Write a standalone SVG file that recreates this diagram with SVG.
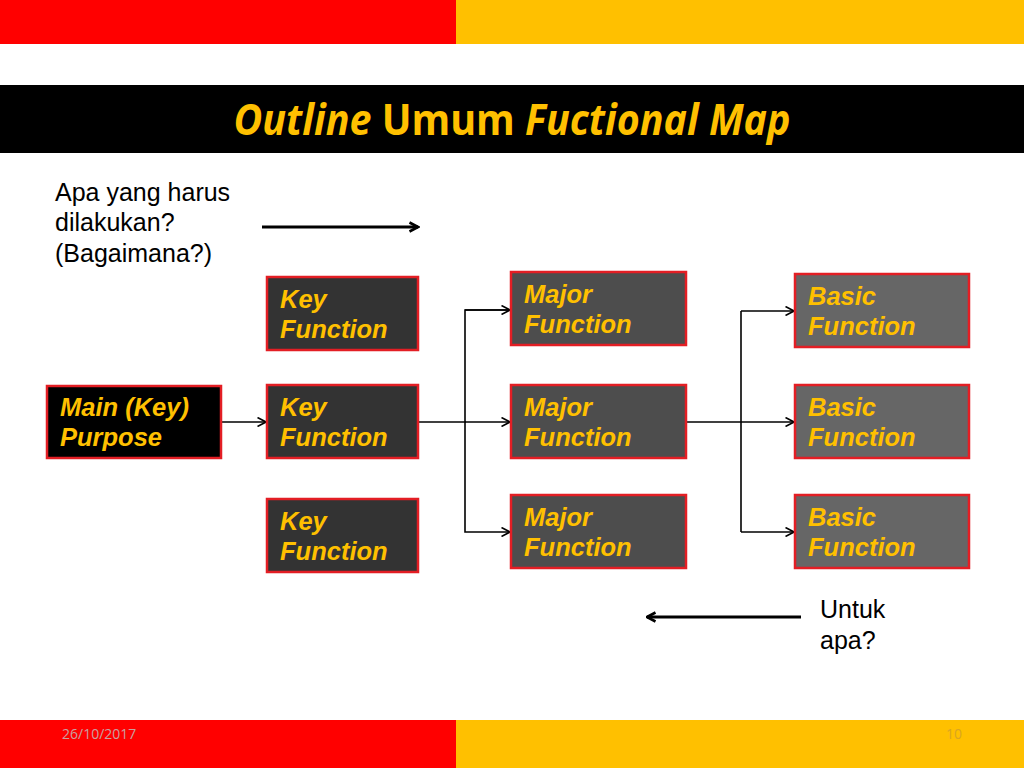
<svg xmlns="http://www.w3.org/2000/svg" width="1024" height="768" viewBox="0 0 1024 768">
<style>
.node{stroke:#e31e24;stroke-width:2.5}
.nt{font-family:"Liberation Sans",Arial,sans-serif;font-weight:bold;font-style:italic;font-size:25.5px;fill:#ffc000}
.plain{font-family:"Liberation Sans",Arial,sans-serif;font-size:25px;fill:#000}
.conn{fill:none;stroke:#000;stroke-width:1.6}
.big{fill:none;stroke:#000;stroke-width:3}
</style>
<defs>
<marker id="ah" viewBox="0 0 10 10" refX="9.5" refY="5" markerWidth="10" markerHeight="10" markerUnits="userSpaceOnUse" orient="auto">
<path d="M1,0.5 L9.5,5 L1,9.5" fill="none" stroke="#000" stroke-width="1.6"/>
</marker>
<marker id="ahb" viewBox="0 0 12 12" refX="10.5" refY="6" markerWidth="12" markerHeight="12" markerUnits="userSpaceOnUse" orient="auto">
<path d="M2,1.5 L10.5,6 L2,10.5" fill="none" stroke="#000" stroke-width="2.6"/>
</marker>
</defs>
<rect x="0" y="0" width="1024" height="768" fill="#fff"/>
<rect x="0" y="0" width="456" height="44" fill="#ff0000"/>
<rect x="456" y="0" width="568" height="44" fill="#ffc000"/>
<rect x="0" y="85" width="1024" height="68" fill="#000"/>
<text x="512" y="135" text-anchor="middle" textLength="557" lengthAdjust="spacingAndGlyphs" font-family="'Open Sans','Liberation Sans',sans-serif" font-weight="bold" font-size="43" fill="#ffc000"><tspan font-style="italic">Outline</tspan> Umum <tspan font-style="italic">Fuctional Map</tspan></text>
<rect x="0" y="720" width="456" height="48" fill="#ff0000"/>
<rect x="456" y="720" width="568" height="48" fill="#ffc000"/>
<text x="62" y="739" font-family="'Open Sans','Liberation Sans',sans-serif" font-size="14" fill="#c8a0a0">26/10/2017</text>
<text x="962" y="739" text-anchor="end" font-family="'Open Sans','Liberation Sans',sans-serif" font-size="14" fill="#d9a520">10</text>
<text class="plain"><tspan x="55" y="201">Apa yang harus</tspan><tspan x="55" y="231">dilakukan?</tspan><tspan x="55" y="262">(Bagaimana?)</tspan></text>
<text class="plain"><tspan x="820" y="618">Untuk</tspan><tspan x="820" y="649">apa?</tspan></text>
<g id="connectors">
<line class="big" x1="262" y1="227" x2="418" y2="227" marker-end="url(#ahb)"/>
<line class="big" x1="801" y1="617" x2="647" y2="617" marker-end="url(#ahb)"/>
<line class="conn" x1="221" y1="422" x2="266" y2="422" marker-end="url(#ah)"/>
<line class="conn" x1="418" y1="422" x2="466" y2="422"/>
<path class="conn" d="M510,310 H465 V532 H510" marker-end="url(#ah)"/>
<line class="conn" x1="465" y1="310" x2="510" y2="310" marker-end="url(#ah)"/>
<line class="conn" x1="465" y1="422" x2="510" y2="422" marker-end="url(#ah)"/>
<line class="conn" x1="686" y1="422" x2="741" y2="422"/>
<path class="conn" d="M741,311 V532" />
<line class="conn" x1="741" y1="311" x2="794" y2="311" marker-end="url(#ah)"/>
<line class="conn" x1="741" y1="422" x2="794" y2="422" marker-end="url(#ah)"/>
<line class="conn" x1="741" y1="532" x2="794" y2="532" marker-end="url(#ah)"/>
</g>
<g id="main">
<rect class="node" x="47" y="386" width="174" height="72" fill="#000"/>
<text class="nt"><tspan x="60" y="416">Main (Key)</tspan><tspan x="60" y="446">Purpose</tspan></text>
</g>
<g id="key1">
<rect class="node" x="267" y="277" width="151" height="73" fill="#333"/>
<text class="nt"><tspan x="280" y="308">Key</tspan><tspan x="280" y="338">Function</tspan></text>
</g>
<g id="key2">
<rect class="node" x="267" y="385" width="151" height="73" fill="#333"/>
<text class="nt"><tspan x="280" y="416">Key</tspan><tspan x="280" y="446">Function</tspan></text>
</g>
<g id="key3">
<rect class="node" x="267" y="499" width="151" height="73" fill="#333"/>
<text class="nt"><tspan x="280" y="530">Key</tspan><tspan x="280" y="560">Function</tspan></text>
</g>
<g id="major1">
<rect class="node" x="511" y="272" width="175" height="73" fill="#4d4d4d"/>
<text class="nt"><tspan x="524" y="303">Major</tspan><tspan x="524" y="333">Function</tspan></text>
</g>
<g id="major2">
<rect class="node" x="511" y="385" width="175" height="73" fill="#4d4d4d"/>
<text class="nt"><tspan x="524" y="416">Major</tspan><tspan x="524" y="446">Function</tspan></text>
</g>
<g id="major3">
<rect class="node" x="511" y="495" width="175" height="73" fill="#4d4d4d"/>
<text class="nt"><tspan x="524" y="526">Major</tspan><tspan x="524" y="556">Function</tspan></text>
</g>
<g id="basic1">
<rect class="node" x="795" y="274" width="174" height="73" fill="#666"/>
<text class="nt"><tspan x="808" y="305">Basic</tspan><tspan x="808" y="335">Function</tspan></text>
</g>
<g id="basic2">
<rect class="node" x="795" y="385" width="174" height="73" fill="#666"/>
<text class="nt"><tspan x="808" y="416">Basic</tspan><tspan x="808" y="446">Function</tspan></text>
</g>
<g id="basic3">
<rect class="node" x="795" y="495" width="174" height="73" fill="#666"/>
<text class="nt"><tspan x="808" y="526">Basic</tspan><tspan x="808" y="556">Function</tspan></text>
</g>
</svg>
